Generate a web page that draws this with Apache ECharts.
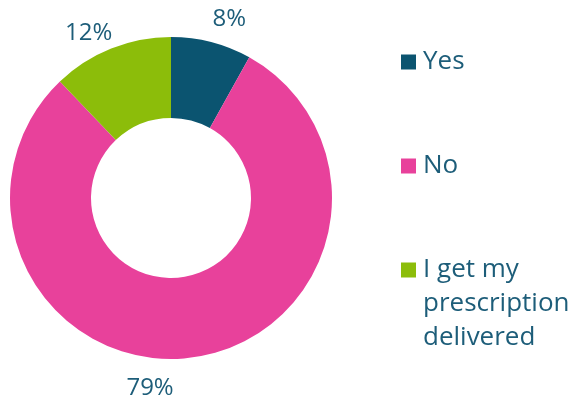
<!DOCTYPE html>
<html>
<head>
<meta charset="utf-8">
<script src="https://cdn.jsdelivr.net/npm/echarts@6/dist/echarts.min.js"></script>
<style>
  html, body { margin: 0; padding: 0; background: #fff; }
  #chart { width: 576px; height: 403px; }
</style>
</head>
<body>
<div id="chart"></div>
<script>
// 各回答占比（%）
const answers = ['Yes', 'No', 'I get my prescription delivered'];
const shares = [8, 79, 12];
const colors = ['#0b5470', '#e8419b', '#8cbd0a'];

// 图例文字换行
const legendNames = {
    'I get my prescription delivered': 'I get my\nprescription\ndelivered',
};
// 标签微调
const labelOffsets = [[-10, 0], [-73, 7], [15, 7]];

const textColor = '#1d5d79';
const fontFamily = '"Open Sans", "Noto Sans", sans-serif';

// 图例文字是垂直居中的：多行时在前面补空行，让第一行对齐色块
const legendText = name => {
    const lines = (legendNames[name] || name).split('\n');
    return '\n'.repeat(lines.length - 1) + lines.join('\n');
};

const legendBase = {
    orient: 'vertical',
    left: 396,
    icon: 'rect',
    itemWidth: 15,
    itemHeight: 15,
    itemGap: 70,
    formatter: legendText,
    textStyle: {
        color: textColor,
        fontFamily,
        fontSize: 26,
        lineHeight: 34,
        padding: [0, 0, 0, 2],
    },
};

const chart = echarts.init(document.getElementById('chart'));
chart.setOption({
    animation: false,
    color: colors,
    // 多行那一项单独一个图例，避免补的空行把它挤下去
    legend: [
        { ...legendBase, top: 40, data: answers.slice(0, 2) },
        { ...legendBase, top: 180, data: answers.slice(2) },
    ],
    series: [{
        type: 'pie',
        center: [171, 198],
        radius: [80, 161],
        startAngle: 90,
        clockwise: true,
        silent: true,
        label: {
            show: true,
            position: 'outside',
            formatter: '{c}%',
            color: textColor,
            fontFamily,
            fontSize: 24,
        },
        labelLine: { show: false, length: 24, length2: 0 },
        data: answers.map((name, i) => ({
            name,
            value: shares[i],
            label: { offset: labelOffsets[i] },
        })),
    }],
});
</script>
</body>
</html>
